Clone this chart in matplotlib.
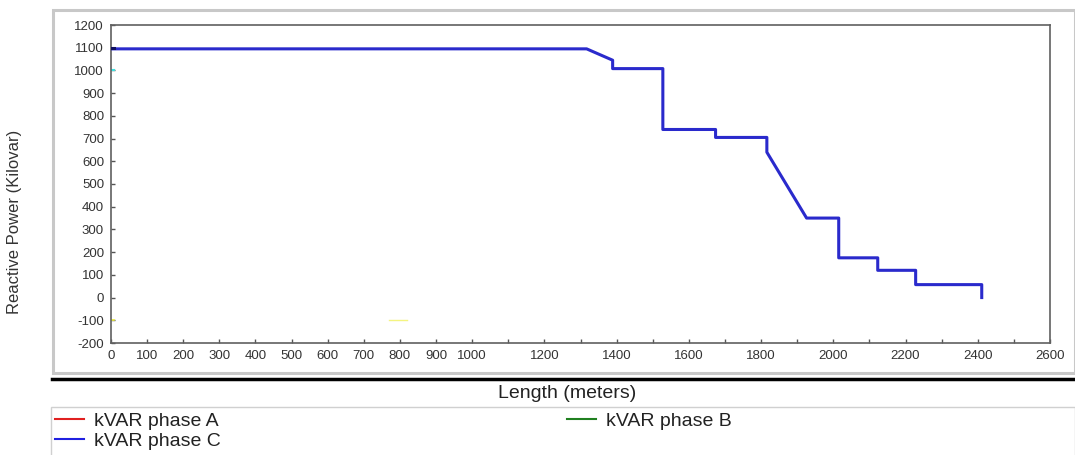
import matplotlib
matplotlib.use("Agg")
import matplotlib.pyplot as plt
from matplotlib.lines import Line2D
from matplotlib.patches import Rectangle

plt.rcParams['font.family'] = ['Liberation Sans', 'DejaVu Sans']
plt.rcParams['axes.unicode_minus'] = False

# phase C reactive power along the feeder
length_c = [0, 1317, 1389, 1389, 1528, 1528, 1674, 1674, 1816, 1816, 1926,
            2015, 2015, 2123, 2123, 2228, 2228, 2411, 2411]
kvar_c = [1095, 1095, 1045, 1008, 1008, 740, 740, 705, 705, 640, 350,
          350, 175, 175, 120, 120, 57, 57, 0]

x_ticks = list(range(0, 2700, 100))
x_labels = [str(v) if (v <= 1000 or v % 200 == 0) else '' for v in x_ticks]
y_ticks = list(range(-200, 1300, 100))

fig = plt.figure(figsize=(10.75, 4.55), dpi=100)
W, H = 1075, 455

# outer grey frame around the plot panel
fig.patches.append(Rectangle((53 / W, 1 - 373 / H), (W - 53) / W, (373 - 10) / H,
                             transform=fig.transFigure, fill=False,
                             edgecolor='#c8c8c8', linewidth=2.2))
# heavy black separator
fig.add_artist(Line2D([52 / W, 1], [1 - 379 / H] * 2, transform=fig.transFigure,
                      color='black', linewidth=2.5))
# legend box
fig.patches.append(Rectangle((51 / W, -0.01), (W - 51) / W, (1 - 407 / H) + 0.01,
                             transform=fig.transFigure, fill=False,
                             edgecolor='#d0d0d0', linewidth=1.0))

ax = fig.add_axes([111 / W, 1 - 343 / H, (1050 - 111) / W, (343 - 25) / H])
ax.plot(length_c, kvar_c, color='#2a2acc', linewidth=2.2, zorder=3)
# faint marks of the other series at the left edge
ax.plot([0, 8], [1000, 1000], color='#40e0e0', linewidth=1.5, zorder=2)
ax.plot([0, 8], [-100, -100], color='#f0f040', linewidth=1.2, zorder=2)
ax.plot([770, 820], [-100, -100], color='#f4f480', linewidth=1.0, zorder=2)
ax.plot([0, 8], [1100, 1100], color='#101060', linewidth=2.2, zorder=4)

ax.set_xlim(0, 2600)
ax.set_ylim(-200, 1200)
ax.set_xticks(x_ticks)
ax.set_xticklabels(x_labels)
ax.set_yticks(y_ticks)
ax.tick_params(direction='in', length=3, width=1, colors='#555555',
               labelcolor='#333333', labelsize=9.5, pad=5)
for s in ax.spines.values():
    s.set_color('#606060')
    s.set_linewidth(1.2)

fig.text(15 / W, 1 - 222 / H, 'Reactive Power (Kilovar)', rotation=90,
         ha='center', va='center', fontsize=12, color='#333333')
fig.text(567 / W, 1 - 394 / H, 'Length (meters)', ha='center', va='center',
         fontsize=14, color='#222222')

handles = [Line2D([], [], color='#e02020', linewidth=1.5),
           Line2D([], [], color='#2020e0', linewidth=1.5),
           Line2D([], [], color='#208020', linewidth=1.5)]
labels = ['kVAR phase A', 'kVAR phase C', 'kVAR phase B']
leg = fig.legend(handles, labels, loc='upper left', ncol=2,
                 bbox_to_anchor=(53 / W, 1 - 410 / H),
                 fontsize=14, frameon=False, borderpad=0.1,
                 handlelength=1.5, handletextpad=0.5, labelspacing=0.15,
                 columnspacing=17.8, borderaxespad=0)
for t in leg.get_texts():
    t.set_color('#222222')

fig.savefig('out.png', dpi=100)
